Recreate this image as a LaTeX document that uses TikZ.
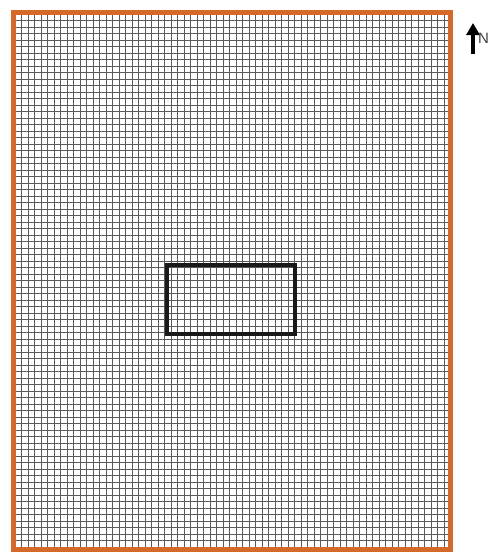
\documentclass[tikz,border=0pt]{standalone}
\usepackage{fontspec}
\setmainfont{Liberation Sans}
\usetikzlibrary{arrows.meta}
\definecolor{brd}{HTML}{D4692A}
\definecolor{gline}{HTML}{5A5A5A}
\tikzset{
  gridline/.style={draw=gline, line width=1pt},
  frame/.style={draw=brd, line width=5.5pt},
  site/.style={draw=black!90, line width=3.8pt},
  northarrow/.style={line width=4.5pt, -{Triangle[length=12pt,width=13pt]}}
}
\begin{document}
\begin{tikzpicture}[x=1pt,y=-1pt]
\useasboundingbox (0,0) rectangle (493,552);
\fill[white] (0,0) rectangle (493,552);
% grid
\foreach \i in {0,...,67} {
  \draw[gridline] ({15+\i*6.5},12) -- ({15+\i*6.5},550);
}
\foreach \j in {0,...,83} {
  \draw[gridline] (13,{14+\j*6.5}) -- (451,{14+\j*6.5});
}
% border
\draw[frame] (13.5,12.5) rectangle (450.5,549.5);
% site rectangle
\draw[site] (167,265) rectangle (295,334);
% north arrow
\coordinate (nb) at (473,54);
\coordinate (nt) at (473,23);
\draw[northarrow] (nb) -- (nt);
\node[anchor=west, inner sep=0pt, text=black!75, font=\fontsize{15}{15}\selectfont] (N) at (478,38) {N};
\end{tikzpicture}
\end{document}
